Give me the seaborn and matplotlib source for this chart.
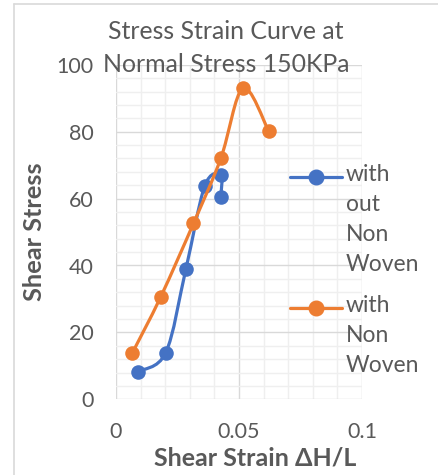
import matplotlib
matplotlib.use('Agg')
import matplotlib.pyplot as plt
import pandas as pd
import seaborn as sns
from matplotlib.path import Path
from matplotlib.patches import PathPatch
from matplotlib.lines import Line2D
from matplotlib.ticker import MultipleLocator

# data
strain_without = [0.0088, 0.0202, 0.0284, 0.0361, 0.0426, 0.0426]
stress_without = [8.3, 13.9, 38.9, 63.8, 67.1, 60.4]
strain_with = [0.0066, 0.0181, 0.0315, 0.0426, 0.0516, 0.0620]
stress_with = [13.8, 30.5, 52.6, 72.0, 93.0, 80.3]
series_names = ['with\nout\nNon\nWoven', 'with\nNon\nWoven']
x_ticks = [0, 0.05, 0.1]
x_tick_labels = ['0', '0.05', '0.1']
colors = ['#4472C4', '#ED7D31']

df = pd.concat([
    pd.DataFrame({'strain': strain_without, 'stress': stress_without, 'series': series_names[0]}),
    pd.DataFrame({'strain': strain_with, 'stress': stress_with, 'series': series_names[1]}),
])

sns.set_theme(style='white')
plt.rcParams['font.family'] = ['Lato', 'DejaVu Sans']
text_col = '#595959'


def smooth_path(xs, ys):
    # Excel style smoothed line (Catmull-Rom as cubic bezier)
    pts = list(zip(xs, ys))
    verts = [pts[0]]
    codes = [Path.MOVETO]
    n = len(pts)
    for i in range(n - 1):
        p0 = pts[i - 1] if i > 0 else pts[i]
        p1 = pts[i]
        p2 = pts[i + 1]
        p3 = pts[i + 2] if i + 2 < n else pts[i + 1]
        c1 = (p1[0] + (p2[0] - p0[0]) / 6, p1[1] + (p2[1] - p0[1]) / 6)
        c2 = (p2[0] - (p3[0] - p1[0]) / 6, p2[1] - (p3[1] - p1[1]) / 6)
        verts += [c1, c2, p2]
        codes += [Path.CURVE4] * 3
    return Path(verts, codes)


fig = plt.figure(figsize=(4.39, 4.75), dpi=100)
ax = fig.add_axes([116 / 439, 1 - 399.3 / 475, 246 / 439, 334.5 / 475])

for k, name in enumerate(series_names):
    sub = df[df['series'] == name]
    ax.add_patch(PathPatch(smooth_path(sub['strain'].tolist(), sub['stress'].tolist()),
                           facecolor='none', edgecolor=colors[k], lw=2.3,
                           capstyle='round', joinstyle='round', zorder=2 + k))
    sns.scatterplot(data=sub, x='strain', y='stress', color=colors[k], s=110,
                    edgecolor=colors[k], linewidth=0, ax=ax, legend=False,
                    zorder=2.5 + k)

ax.set_xlim(0, 0.1)
ax.set_ylim(0, 100)
ax.set_xticks(x_ticks, x_tick_labels)
ax.xaxis.set_minor_locator(MultipleLocator(0.01))
ax.yaxis.set_major_locator(MultipleLocator(20))
ax.yaxis.set_minor_locator(MultipleLocator(4))
ax.grid(which='major', color='#D9D9D9', lw=1.0)
ax.grid(which='minor', color='#EFEFEF', lw=1.0)
ax.set_axisbelow(True)
for s in ax.spines.values():
    s.set_visible(False)
ax.tick_params(which='both', length=0, labelsize=15.5, colors=text_col)
ax.tick_params(axis='y', pad=16)
ax.tick_params(axis='x', pad=16)
ax.set_xlabel('')
ax.set_ylabel('')

fig.text(255 / 439, 1 - 465.5 / 475, 'Shear Strain ΔH/L', ha='center', va='baseline',
         fontsize=18, fontweight='bold', color=text_col)
fig.text(35 / 439, 1 - 232 / 475, 'Shear Stress', ha='center', va='center',
         rotation=90, fontsize=18.3, fontweight='bold', color=text_col)
fig.text(226 / 439, 1 - 48 / 475, 'Stress Strain Curve at\nNormal Stress 150KPa',
         ha='center', va='center', fontsize=17.9, color=text_col, linespacing=1.5)

# legend drawn by hand (handle beside first text line, like the reference)
for k, (ly, name) in enumerate(zip([177, 308], series_names)):
    yf = 1 - ly / 475
    fig.add_artist(Line2D([290 / 439, 342 / 439], [yf, yf], color=colors[k], lw=2.3,
                          transform=fig.transFigure))
    fig.add_artist(Line2D([316 / 439], [yf], color=colors[k], marker='o', ms=10.5,
                          transform=fig.transFigure))
    fig.text(346 / 439, 1 - (ly - 13) / 475, name, ha='left', va='top',
             fontsize=16.5, color=text_col, linespacing=1.52)

# chart frame (only left and top edges visible in the crop)
fig.add_artist(Line2D([14.5 / 439, 14.5 / 439], [0, 1 - 4 / 475], color='#D9D9D9', lw=1.2,
                      transform=fig.transFigure))
fig.add_artist(Line2D([14.5 / 439, 1], [1 - 4 / 475, 1 - 4 / 475], color='#D9D9D9', lw=1.2,
                      transform=fig.transFigure))

fig.savefig('out.png', dpi=100)
